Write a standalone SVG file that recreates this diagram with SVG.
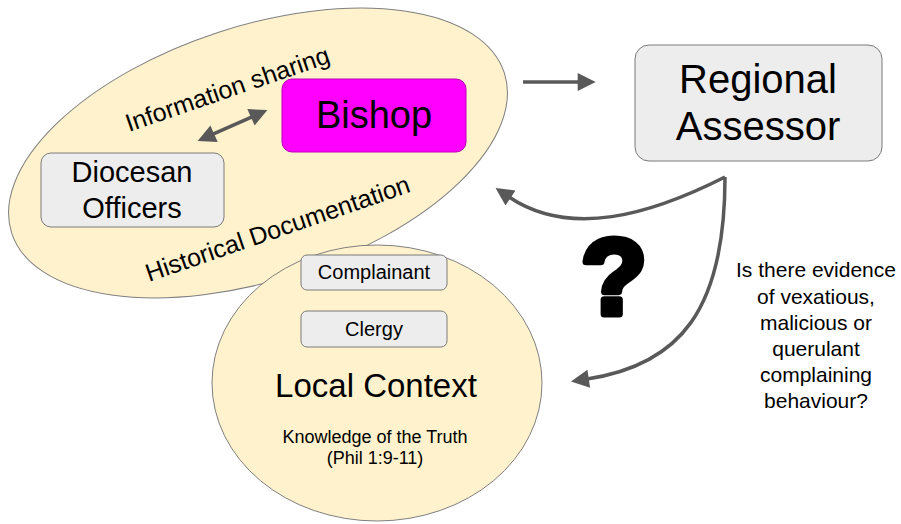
<svg xmlns="http://www.w3.org/2000/svg" width="901" height="524" viewBox="0 0 901 524">
<style>
text{font-family:"Liberation Sans",Arial,sans-serif;fill:#000}
.region{fill:#fff2cc;stroke:#7f7f7f;stroke-width:1}
.box{fill:#ededed;stroke:#7a7a7a;stroke-width:1}
.conn{fill:none;stroke:#595959;stroke-width:3.5}
.c{text-anchor:middle}
</style>
<defs>
<marker id="ah" viewBox="0 0 10 10" refX="1" refY="5" markerUnits="userSpaceOnUse" markerWidth="25" markerHeight="18" orient="auto-start-reverse">
<path d="M0,0 L10,5 L0,10 z" fill="#595959"/>
</marker>
</defs>
<g id="diocese-region">
<ellipse class="region" cx="258" cy="153" rx="259" ry="127" transform="rotate(-18 258 153)"/>
<text x="129" y="132" font-size="25" transform="rotate(-19 129 132)">Information sharing</text>
<text x="149" y="282" font-size="25" transform="rotate(-19 149 282)">Historical Documentation</text>
</g>
<g id="local-context">
<ellipse class="region" cx="377" cy="383" rx="165" ry="138"/>
<text class="c" x="376" y="397" font-size="33">Local Context</text>
<text class="c" x="375" y="443" font-size="18">Knowledge of the Truth</text>
<text class="c" x="375" y="464" font-size="18">(Phil 1:9-11)</text>
</g>
<g id="bishop">
<rect x="282" y="79" width="184" height="73" rx="10" fill="#ff00ff" stroke="#b800b8" stroke-width="1"/>
<text class="c" x="374" y="128" font-size="38">Bishop</text>
</g>
<g id="diocesan-officers">
<rect class="box" x="41" y="153" width="183" height="74" rx="10"/>
<text class="c" x="132" y="182" font-size="29">Diocesan</text>
<text class="c" x="132" y="218" font-size="29">Officers</text>
</g>
<g id="complainant">
<rect class="box" x="301" y="255" width="146" height="35" rx="6"/>
<text class="c" x="374" y="279" font-size="20">Complainant</text>
</g>
<g id="clergy">
<rect class="box" x="301" y="311" width="146" height="36" rx="6"/>
<text class="c" x="374" y="336" font-size="20">Clergy</text>
</g>
<g id="regional-assessor">
<rect class="box" x="635" y="45" width="247" height="116" rx="14"/>
<text class="c" x="758" y="93" font-size="40">Regional</text>
<text class="c" x="758" y="140" font-size="40">Assessor</text>
</g>
<g id="question">
<text class="c" x="614" y="314" font-size="108" font-weight="bold" stroke="#000" stroke-width="7" stroke-linejoin="round">?</text>
<text class="c" x="816" y="277" font-size="21">Is there evidence</text>
<text class="c" x="816" y="304" font-size="21">of vexatious,</text>
<text class="c" x="816" y="330" font-size="21">malicious or</text>
<text class="c" x="816" y="356" font-size="21">querulant</text>
<text class="c" x="816" y="382" font-size="21">complaining</text>
<text class="c" x="816" y="408" font-size="21">behaviour?</text>
</g>
<g id="connectors">
<line class="conn" x1="212.4" y1="134.4" x2="252.6" y2="116.6" marker-start="url(#ah)" marker-end="url(#ah)"/>
<line class="conn" x1="523" y1="82" x2="579.5" y2="82" marker-end="url(#ah)"/>
<path class="conn" d="M725,177 C650,215 570,238 509,197" marker-end="url(#ah)"/>
<path class="conn" d="M725,177 C725,310 680,365 587,379" marker-end="url(#ah)"/>
</g>
</svg>
